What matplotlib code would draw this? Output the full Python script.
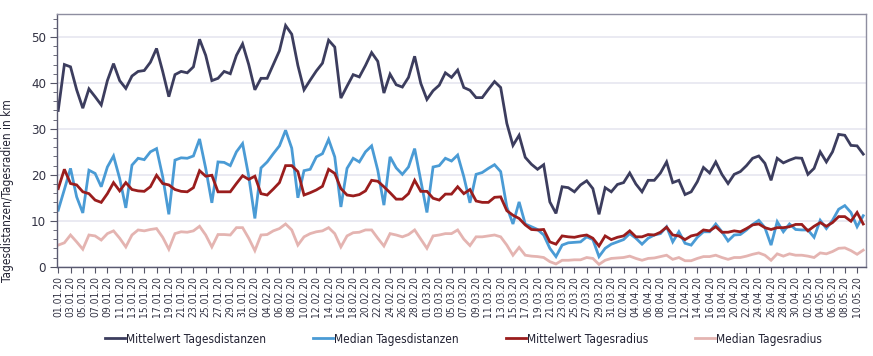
import matplotlib
matplotlib.use("Agg")
import matplotlib.pyplot as plt
from matplotlib.ticker import MultipleLocator
from matplotlib import font_manager
import pandas as pd

dates = pd.date_range("2020-01-01", "2020-05-11", freq="D")
date_labels = [d.strftime("%d.%m.%y") for d in dates]

mittelwert_distanz = [
    34.0, 44.0, 43.5, 38.5, 34.5, 38.7, 37.0, 35.2, 40.5, 44.2,
    40.5, 38.8, 41.5, 42.5, 42.7, 44.5, 47.5, 42.5, 37.0, 41.8,
    42.5, 42.2, 43.5, 49.5, 46.0, 40.5, 41.0, 42.5, 42.0, 46.0,
    48.5, 44.0, 38.5, 41.0, 41.0, 44.0, 47.0, 52.5, 50.6, 43.8,
    38.5, 40.6, 42.6, 44.3, 49.3, 47.8, 36.7, 39.3, 41.8, 41.3,
    43.8, 46.6, 44.7, 37.8, 41.9, 39.6, 39.1, 41.2, 45.8, 39.9,
    36.4, 38.3, 39.5, 42.2, 41.2, 42.8, 39.0, 38.4, 36.8, 36.8,
    38.6, 40.3, 39.0, 31.2, 26.4, 28.6, 23.8, 22.3, 21.2, 22.2,
    14.1, 11.6, 17.4, 17.2, 16.3, 17.8, 18.7, 17.0, 11.4, 17.2,
    16.3, 17.9, 18.3, 20.4, 18.0, 16.3, 18.8, 18.8, 20.4, 22.8,
    18.3, 18.8, 15.7, 16.3, 18.5, 21.6, 20.4, 22.8, 20.1, 18.1,
    20.1, 20.7, 22.0, 23.6, 24.1, 22.5, 18.8, 23.6, 22.6, 23.2,
    23.7, 23.6, 20.1, 21.4, 25.0, 22.8, 25.0, 28.8, 28.6, 26.4,
    26.3, 24.5,
]

median_distanz = [
    12.3, 16.8, 21.4, 15.2, 11.7, 21.0, 20.3, 17.4, 21.7, 24.1,
    19.2, 12.8, 22.1, 23.6, 23.3, 25.0, 25.7, 19.6, 11.4, 23.2,
    23.7, 23.6, 24.1, 27.8, 21.4, 13.9, 22.8, 22.7, 22.0, 25.0,
    26.8, 19.7, 10.5, 21.5, 22.8, 24.6, 26.3, 29.7, 25.8, 15.0,
    20.9, 21.2, 23.9, 24.6, 27.7, 23.9, 13.0, 21.4, 23.6, 22.8,
    25.0, 26.3, 21.0, 13.4, 23.9, 21.5, 20.1, 21.7, 25.7, 18.8,
    11.8, 21.7, 22.0, 23.6, 23.0, 24.3, 19.6, 13.9, 20.1, 20.5,
    21.4, 22.2, 20.7, 13.0, 9.3, 14.1, 9.3, 8.7, 8.1, 6.9,
    4.0, 2.2, 4.7, 5.2, 5.3, 5.4, 6.5, 5.9, 2.2, 4.0,
    4.9, 5.4, 5.9, 7.2, 6.2, 4.9, 6.2, 6.9, 7.2, 8.7,
    5.4, 7.6, 5.1, 4.7, 6.4, 7.6, 7.6, 9.3, 7.6, 5.6,
    6.9, 7.0, 8.0, 9.2, 10.1, 8.5, 4.7, 9.8, 7.6, 9.3,
    8.1, 8.0, 8.0, 6.4, 10.1, 8.3, 10.1, 12.5, 13.3, 11.8,
    8.7, 11.1,
]

mittelwert_radius = [
    17.0, 21.2, 18.1, 17.8, 16.3, 15.9, 14.5, 14.0, 15.9, 18.3,
    16.5, 18.3, 16.8, 16.5, 16.4, 17.4, 19.9, 18.1, 17.8, 16.8,
    16.4, 16.3, 17.2, 20.9, 19.7, 19.9, 16.3, 16.3, 16.3, 18.1,
    19.8, 19.0, 19.7, 15.9, 15.6, 16.9, 18.3, 22.0, 22.0, 20.7,
    15.6, 16.1, 16.7, 17.5, 21.2, 20.3, 17.0, 15.6, 15.4, 15.7,
    16.5, 18.8, 18.6, 17.4, 16.1, 14.7, 14.7, 15.9, 18.8, 16.4,
    16.4, 14.9, 14.5, 15.8, 15.8, 17.4, 15.9, 16.8, 14.3, 14.0,
    14.0, 15.1, 15.2, 12.2, 11.2, 10.5, 9.1, 8.1, 8.0, 8.1,
    5.4, 4.9, 6.7, 6.5, 6.4, 6.7, 6.9, 6.2, 4.5, 6.7,
    5.9, 6.4, 6.7, 7.8, 6.5, 6.5, 7.0, 6.9, 7.5, 8.6,
    6.9, 6.7, 5.9, 6.7, 7.0, 8.0, 7.8, 8.7, 7.5, 7.5,
    7.8, 7.6, 8.3, 9.1, 9.3, 8.5, 8.1, 8.5, 8.5, 8.7,
    9.2, 9.2, 7.8, 8.8, 9.6, 8.8, 9.6, 10.9, 10.9, 9.9,
    11.8, 9.3,
]

median_radius = [
    4.7, 5.2, 6.9, 5.4, 3.8, 6.9, 6.7, 5.8, 7.2, 7.8,
    6.2, 4.3, 6.9, 8.0, 7.8, 8.1, 8.3, 6.4, 3.8, 7.2,
    7.6, 7.5, 7.8, 8.8, 6.9, 4.3, 7.0, 7.0, 6.9, 8.5,
    8.5, 6.2, 3.5, 6.9, 7.0, 7.8, 8.3, 9.3, 8.0, 4.7,
    6.5, 7.2, 7.6, 7.8, 8.5, 7.2, 4.3, 6.7, 7.4, 7.5,
    8.0, 8.0, 6.2, 4.5, 7.2, 6.9, 6.5, 7.0, 8.0, 6.0,
    4.0, 6.7, 6.9, 7.2, 7.2, 8.0, 6.0, 4.6, 6.5, 6.5,
    6.7, 6.9, 6.5, 4.7, 2.5, 4.2, 2.5, 2.3, 2.2, 2.0,
    1.1, 0.6, 1.4, 1.4, 1.5, 1.5, 2.0, 1.8, 0.5, 1.4,
    1.8, 1.9, 2.0, 2.3, 1.8, 1.4, 1.8, 1.9, 2.2, 2.5,
    1.6, 2.0, 1.3, 1.3, 1.8, 2.2, 2.2, 2.5, 2.0, 1.6,
    2.0, 2.0, 2.3, 2.7, 3.0, 2.5, 1.4, 2.8, 2.3, 2.8,
    2.5, 2.5, 2.3, 2.0, 3.0, 2.8, 3.3, 4.0, 4.1, 3.5,
    2.7, 3.6,
]

series_names = ["Mittelwert Tagesdistanzen", "Median Tagesdistanzen",
                "Mittelwert Tagesradius", "Median Tagesradius"]
series_colors = ["#3c3d5e", "#4a9bd5", "#9a1d1d", "#e4b4b1"]
y_label = "Tagesdistanzen/Tagesradien in km"

plt.rcParams["font.family"] = ["DejaVu Sans"]
plt.rcParams["font.stretch"] = "condensed"

fig = plt.figure(figsize=(8.73, 3.56), dpi=100)
ax = fig.add_axes([57.3 / 873, 1 - 266.7 / 356, (866 - 57.3) / 873, (266.7 - 14) / 356])

x = list(range(len(dates)))
for vals, name, col in zip([mittelwert_distanz, median_distanz, mittelwert_radius, median_radius],
                           series_names, series_colors):
    ax.plot(x, vals, color=col, lw=2.0, label=name, solid_joinstyle="miter")

ax.set_xlim(-0.15, 131.45)
ax.set_ylim(0, 55)
ax.yaxis.set_minor_locator(MultipleLocator(2))
ax.set_yticks([0, 10, 20, 30, 40, 50])
ax.set_xticks(x[::2])
ax.set_xticklabels(date_labels[::2], rotation=90, fontsize=7.4, color="#333344")
ax.tick_params(axis="y", labelsize=9.5, colors="#555566", labelcolor="#333344", length=5, pad=3)
ax.tick_params(axis="y", which="minor", length=3, colors="#555566")
ax.tick_params(axis="x", length=4, colors="#555566", labelcolor="#333344", pad=2.5)
ax.grid(axis="y", color="#e6e6f0", lw=1.2)
ax.set_axisbelow(True)
for s in ["top", "right"]:
    ax.spines[s].set_color("#8e8ea0")
    ax.spines[s].set_linewidth(1.0)
for s in ["left", "bottom"]:
    ax.spines[s].set_color("#5a5a70")
    ax.spines[s].set_linewidth(1.0)

ax.set_ylabel(y_label, fontsize=8.5, color="#222233")
ax.yaxis.set_label_coords((14 - 57.3) / 808.7, (266.7 - 191) / 252.7)

fig.legend(loc="center", bbox_to_anchor=(463.5 / 873, 1 - 339 / 356), ncol=4, frameon=False,
           fontsize=8.6, handlelength=1.7, handletextpad=0.1, columnspacing=3.9,
           labelcolor="#222233")

fig.savefig("out.png", dpi=100)
